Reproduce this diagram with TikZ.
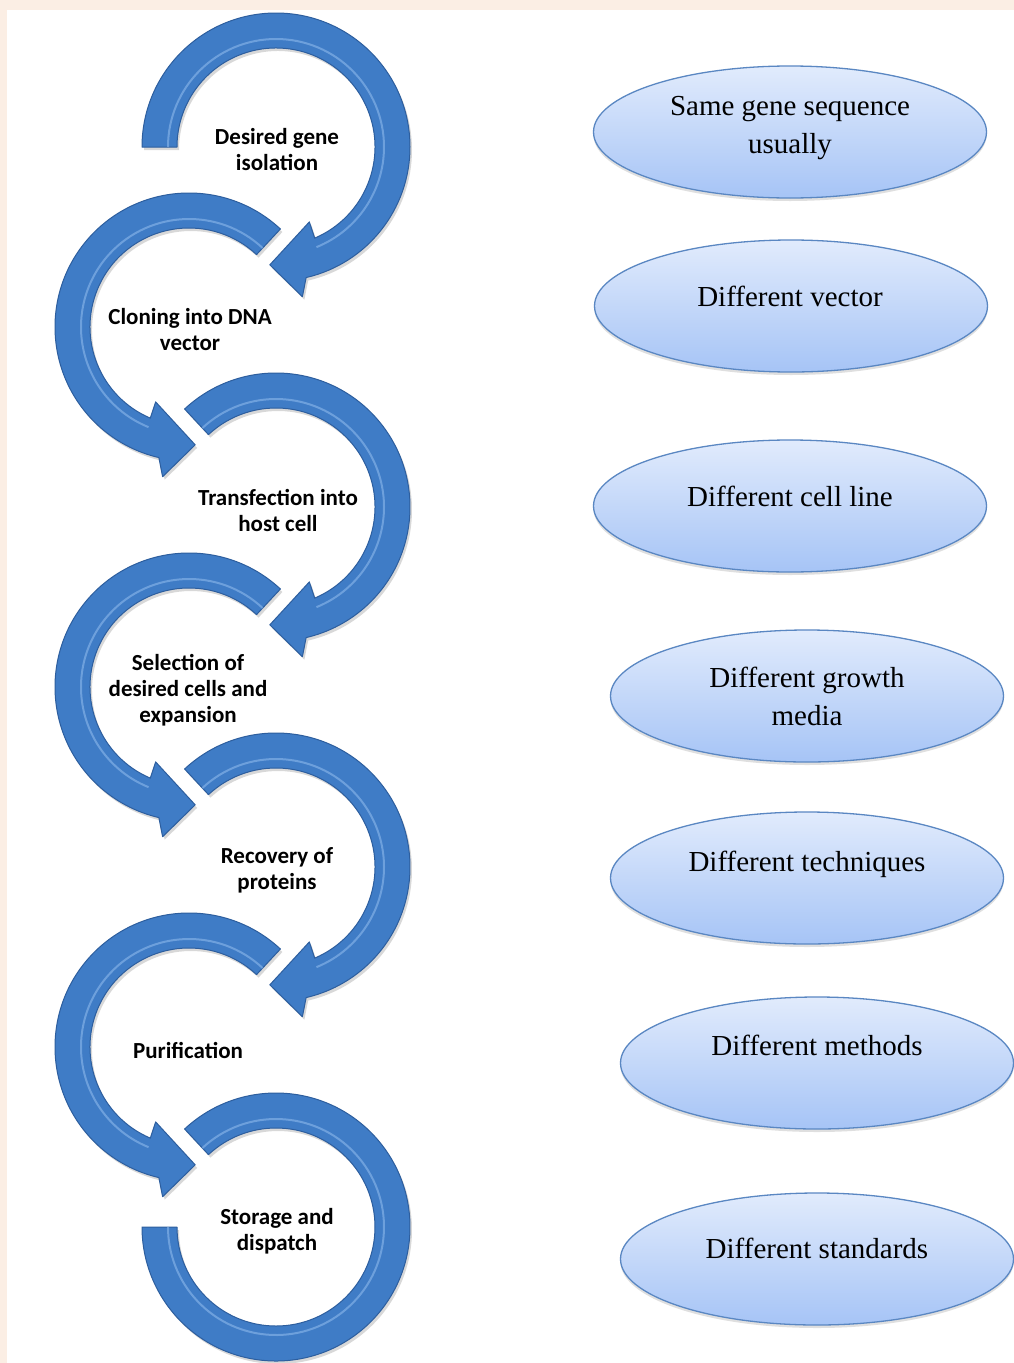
\documentclass[tikz,border=0pt]{standalone}
\usepackage{fontspec}
\setmainfont{Liberation Serif}
\newfontfamily\stepfont{Carlito}
\usetikzlibrary{shapes.geometric,shadows}

\definecolor{pagebeige}{HTML}{FBEEE4}
\definecolor{arrowblue}{HTML}{3F7CC6}
\definecolor{arrowedge}{HTML}{2D5E9E}
\definecolor{arrowshine}{HTML}{8DB8EC}
\definecolor{ovaltop}{HTML}{E1EBFC}
\definecolor{ovalbottom}{HTML}{A6C4F6}
\definecolor{ovaledge}{HTML}{5A87C2}

\tikzset{
  ring/.style={fill=arrowblue,draw=arrowedge,line width=1pt,line join=round,
    drop shadow={opacity=.3,shadow xshift=2pt,shadow yshift=-3pt}},
  shine/.style={draw=arrowshine,line width=2pt,opacity=.6}
}

% ring arrow turning clockwise, tail at angle #3
\newcommand{\ringcw}[3]{%
  \begin{scope}[shift={(#1,#2)}]
    \fill[ring] (#3:134pt) arc[start angle=#3,end angle=-77,radius=134pt] -- (-80:152pt) -- (-93:118pt) -- (-66:82pt) -- (-67:99pt) arc[start angle=-67,end angle=#3,radius=99pt] -- cycle;
    \draw[shine] (#3:108pt) arc[start angle=#3,end angle=-68,radius=108pt];
  \end{scope}}
% ring arrow turning counterclockwise, tail at angle #3
\newcommand{\ringccw}[3]{%
  \begin{scope}[shift={(#1,#2)}]
    \fill[ring] (#3:134pt) arc[start angle=#3,end angle=257,radius=134pt] -- (260:152pt) -- (273:118pt) -- (246:82pt) -- (247:99pt) arc[start angle=247,end angle=#3,radius=99pt] -- cycle;
    \draw[shine] (#3:108pt) arc[start angle=#3,end angle=248,radius=108pt];
  \end{scope}}
% last ring, no head
\newcommand{\ringend}[2]{%
  \begin{scope}[shift={(#1,#2)}]
    \fill[ring] (133:134pt) arc[start angle=133,end angle=-180,radius=134pt] -- (180:99pt) arc[start angle=-180,end angle=133,radius=99pt] -- cycle;
    \draw[shine] (133:108pt) arc[start angle=133,end angle=-180,radius=108pt];
  \end{scope}}

\begin{document}
\begin{tikzpicture}[x=1pt,y=1pt,
  steplabel/.style={font=\stepfont\bfseries\fontsize{23}{26}\selectfont,align=center},
  oval/.style={ellipse,draw=ovaledge,line width=1.3pt,top color=ovaltop,bottom color=ovalbottom,
    minimum width=393pt,minimum height=132pt,
    drop shadow={opacity=.25,shadow xshift=0pt,shadow yshift=-3pt}},
  ovaltext/.style={font=\fontsize{29}{38}\selectfont,align=center}]
\useasboundingbox (0,0) rectangle (1014,-1363);
\fill[pagebeige] (0,0) rectangle (1014,-1363);
\fill[white] (7,-10) rectangle (1014,-1363);

% process rings
\ringcw{276}{-147}{180}
\ringccw{189}{-327}{47}
\ringcw{276}{-507}{133}
\ringccw{189}{-687}{47}
\ringcw{276}{-867}{133}
\ringccw{189}{-1047}{47}
\ringend{276}{-1227}

\node[steplabel] (isolation) at (277,-150) {Desired gene\\isolation};
\node[steplabel] (cloning) at (190,-330) {Cloning into DNA\\vector};
\node[steplabel] (transfection) at (278,-510) {Transfection into\\host cell};
\node[steplabel] (selection) at (188,-690) {Selection of\\desired cells and\\expansion};
\node[steplabel] (recovery) at (277,-870) {Recovery of\\proteins};
\node[steplabel] (purification) at (188,-1050) {Purification};
\node[steplabel] (storage) at (277,-1231) {Storage and\\dispatch};

% variations
\node[oval] (sameseq) at (790,-132) {};
\node[oval] (vector) at (791,-306) {};
\node[oval] (cellline) at (790,-506) {};
\node[oval] (media) at (807,-696) {};
\node[oval] (techniques) at (807,-878) {};
\node[oval] (methods) at (817,-1063) {};
\node[oval] (standards) at (817,-1259) {};

\node[ovaltext] (sameseqtext) at (790,-128) {Same gene sequence\\usually};
\node[ovaltext] (vectortext) at (790,-296) {Different vector};
\node[ovaltext] (celllinetext) at (790,-496) {Different cell line};
\node[ovaltext] (mediatext) at (807,-696) {Different growth\\media};
\node[ovaltext] (techniquestext) at (807,-864) {Different techniques};
\node[ovaltext] (methodstext) at (817,-1045) {Different methods};
\node[ovaltext] (standardstext) at (817,-1248) {Different standards};
\end{tikzpicture}
\end{document}
